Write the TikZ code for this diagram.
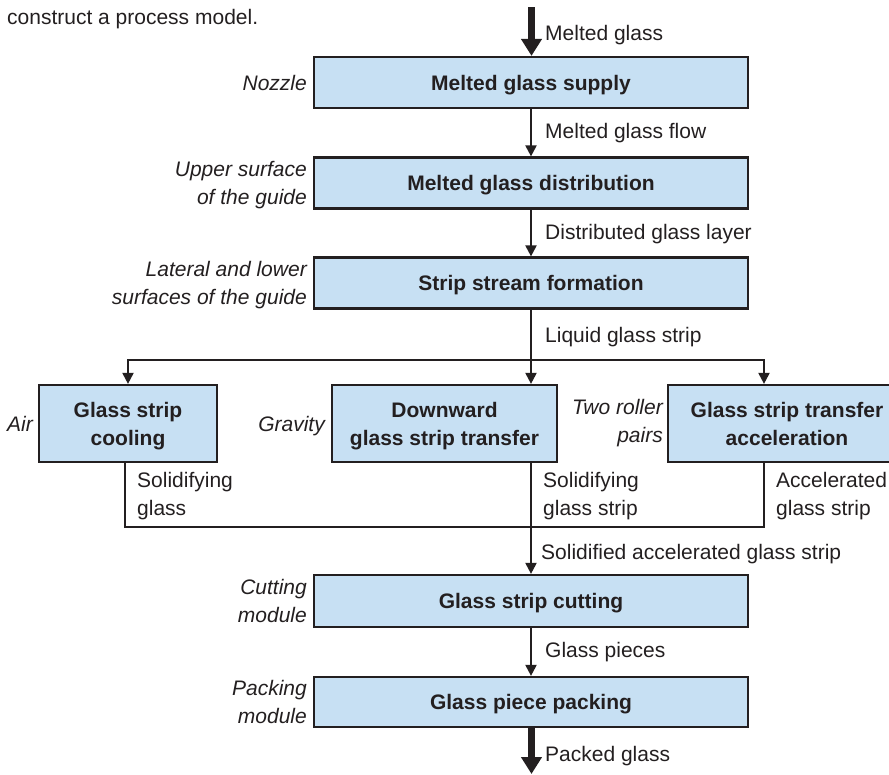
\documentclass[tikz,border=0pt]{standalone}
\usepackage{fontspec}
\setmainfont{Liberation Sans}
\usetikzlibrary{arrows.meta}
\definecolor{ink}{RGB}{35,31,32}
\definecolor{boxblue}{RGB}{199,224,243}
\newcommand{\dfont}{\fontsize{21}{28}\selectfont}
\newcommand{\twoc}[2]{\begin{tabular}[b]{@{}c@{}}#1\\#2\end{tabular}}
\newcommand{\twol}[2]{\begin{tabular}[b]{@{}l@{}}#1\\#2\end{tabular}}
\newcommand{\twor}[2]{\begin{tabular}[b]{@{}r@{}}#1\\#2\end{tabular}}
\tikzset{
  procbox/.style={draw=ink, line width=2.2pt, fill=boxblue, text=ink,
    font=\dfont\bfseries, inner sep=0pt, text height=15pt, text depth=0pt},
  procbox2/.style={procbox, text height=43pt, text depth=0pt},
  flowlab/.style={text=ink, font=\dfont, inner sep=0pt, anchor=base west},
  sidelab/.style={text=ink, font=\dfont\itshape, inner sep=0pt, anchor=base east},
  conn/.style={draw=ink, line width=2pt, -{Triangle[width=11pt,length=11pt]}},
  plainline/.style={draw=ink, line width=2pt},
  bigarrow/.style={draw=ink, line width=7pt, -{Triangle[width=20pt,length=17pt]}}
}
\begin{document}
\begin{tikzpicture}[x=1pt,y=-1pt]
\useasboundingbox (0,0) rectangle (889,774);
\clip (0,0) rectangle (889,774);

% caption fragment
\node[flowlab] (cap) at (7,24) {construct a process model.};

% main boxes
\node[procbox, minimum width=434pt, minimum height=51pt] (b1) at (531,82.5) {Melted glass supply};
\node[procbox, minimum width=434pt, minimum height=51pt] (b2) at (531,183) {Melted glass distribution};
\node[procbox, minimum width=434pt, minimum height=51pt] (b3) at (531,283) {Strip stream formation};
\node[procbox2, minimum width=178pt, minimum height=77pt] (bA) at (128,423.5) {\twoc{Glass strip}{cooling}};
\node[procbox2, minimum width=225pt, minimum height=77pt] (bB) at (444.5,423.5) {\twoc{Downward}{glass strip transfer}};
\node[procbox2, minimum width=238pt, minimum height=77pt] (bC) at (787,423.5) {\twoc{Glass strip transfer}{acceleration}};
\node[procbox, minimum width=434pt, minimum height=52pt] (b4) at (531,601) {Glass strip cutting};
\node[procbox, minimum width=434pt, minimum height=50pt] (b5) at (531,702) {Glass piece packing};

% side labels
\node[sidelab] (s1) at (307,90) {Nozzle};
\node[sidelab] (s2) at (307,204.5) {\twor{Upper surface}{of the guide}};
\node[sidelab] (s3) at (307,304.5) {\twor{Lateral and lower}{surfaces of the guide}};
\node[sidelab] (sA) at (33,431) {Air};
\node[sidelab] (sB) at (325,431) {Gravity};
\node[sidelab] (sC) at (663,442) {\twor{Two roller}{pairs}};
\node[sidelab] (s4) at (307,622.5) {\twor{Cutting}{module}};
\node[sidelab] (s5) at (307,723.5) {\twor{Packing}{module}};

% coordinates
\coordinate (in) at (531.5,7);
\coordinate (out) at (531.5,774);
\coordinate (jA) at (128,360);
\coordinate (jB) at (531,360);
\coordinate (jC) at (764,360);
\coordinate (kA) at (125,527);
\coordinate (kB) at (531,527);
\coordinate (kC) at (764,527);

% connectors
\draw[bigarrow] (in) -- (b1.north -| in);
\draw[conn] (b1) -- (b2);
\draw[conn] (b2) -- (b3);
\draw[plainline] (b3.south) -- (jB);
\draw[plainline, line cap=rect] (jA) -- (jC);
\draw[conn] (jA) -- (bA.north);
\draw[conn] (jB) -- (jB |- bB.north);
\draw[conn] (jC) -- (jC |- bC.north);
\draw[plainline, line join=miter] (kA |- bA.south) -- (kA) -- (kC) -- (kC |- bC.south);
\draw[conn] (kB |- bB.south) -- (b4.north);
\draw[conn] (b4) -- (b5);
\draw[bigarrow] (b5.south -| out) -- (out);

% flow labels
\node[flowlab] (l0) at (545,40) {Melted glass};
\node[flowlab] (l1) at (545,138.5) {Melted glass flow};
\node[flowlab] (l2) at (545,239.5) {Distributed glass layer};
\node[flowlab] (l3) at (545,342.5) {Liquid glass strip};
\node[flowlab] (lA) at (137,515.5) {\twol{Solidifying}{glass}};
\node[flowlab] (lB) at (543,515.5) {\twol{Solidifying}{glass strip}};
\node[flowlab] (lC) at (776,515.5) {\twol{Accelerated}{glass strip}};
\node[flowlab] (l4) at (541,559.5) {Solidified accelerated glass strip};
\node[flowlab] (l5) at (545,657.5) {Glass pieces};
\node[flowlab] (l6) at (545,761) {Packed glass};
\end{tikzpicture}
\end{document}
